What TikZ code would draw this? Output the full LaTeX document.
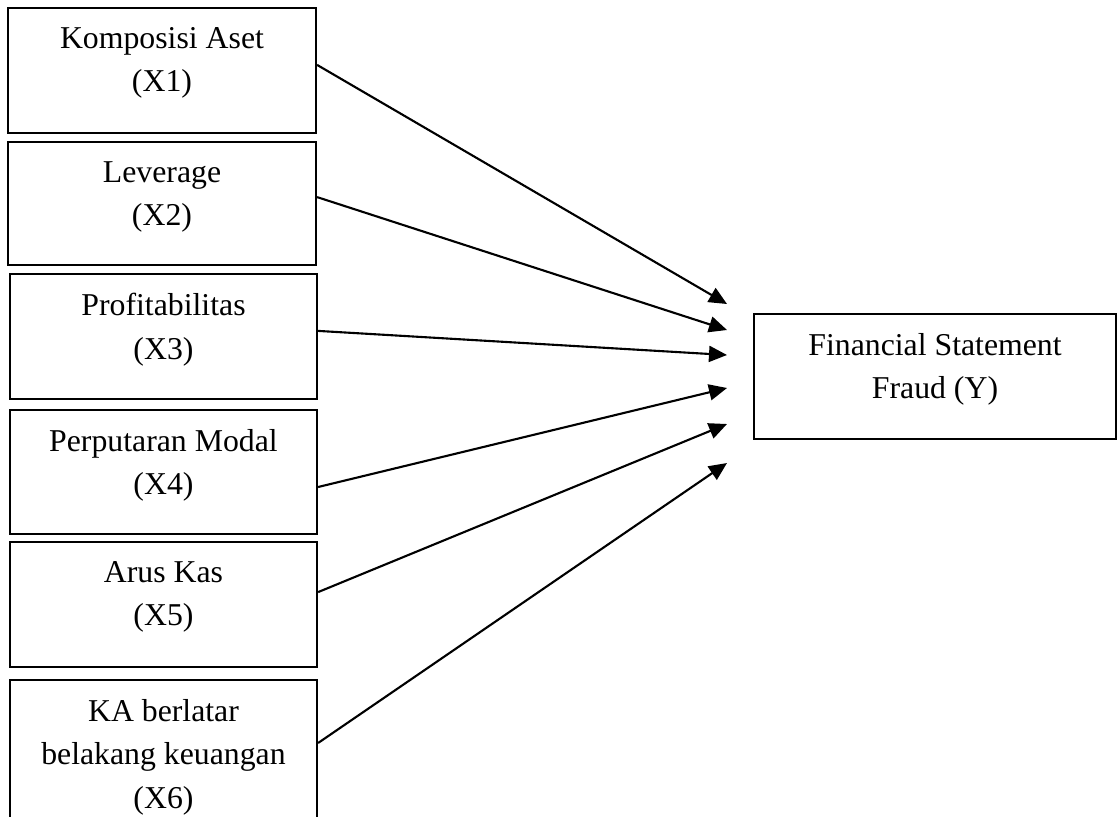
\documentclass[tikz,border=0pt]{standalone}
\usepackage{fontspec}
\setmainfont{Liberation Serif}
\usetikzlibrary{arrows.meta}
\usetikzlibrary{positioning}
\tikzset{
	varbox/.style = {rectangle, draw=black, line width=1.5pt, inner sep=0pt},% kotak variabel
	vartext/.style = {align=center, inner sep=0pt, text centered,
		font=\fontsize{22.6}{31}\selectfont},% teks variabel
	panah/.style = {-{Triangle[length=0.45cm,width=0.4cm]}, line width=1.5pt}% panah pengaruh
}

\begin{document}
\begin{tikzpicture}[x=0.025cm, y=-0.025cm]
	\useasboundingbox (0,0) rectangle (1117,816);
	% variabel X
	\node [varbox, minimum width=7.7cm, minimum height=3.125cm] (x1) at (162,70.5) {};
	\node [varbox, minimum width=7.7cm, minimum height=3.075cm] (x2) at (162,203.5) {};
	\node [varbox, minimum width=7.675cm, minimum height=3.125cm] (x3) at (163.5,336.5) {};
	\node [varbox, minimum width=7.675cm, minimum height=3.1cm] (x4) at (163.5,472) {};
	\node [varbox, minimum width=7.675cm, minimum height=3.125cm] (x5) at (163.5,604.5) {};
	\node [varbox, minimum width=7.675cm, minimum height=3.75cm] (x6) at (163.5,755) {};
	% variabel Y
	\node [varbox, minimum width=9.05cm, minimum height=3.125cm] (y) at (935,376.5) {};
	% teks
	\node [vartext, below=0.5cm of x1.north] (t1) {Komposisi Aset\\(X1)};
	\node [vartext, below=0.5cm of x2.north] (t2) {Leverage\\(X2)};
	\node [vartext, below=0.5cm of x3.north] (t3) {Profitabilitas\\(X3)};
	\node [vartext, below=0.5cm of x4.north] (t4) {Perputaran Modal\\(X4)};
	\node [vartext, below=0.5cm of x5.north] (t5) {Arus Kas\\(X5)};
	\node [vartext, below=0.5cm of x6.north] (t6) {KA berlatar\\belakang keuangan\\(X6)};
	\node [vartext, below=0.5cm of y.north] (ty) {Financial Statement\\Fraud (Y)};
	% ujung panah
	\coordinate (e1) at (727,304);
	\coordinate (e2) at (727,330);
	\coordinate (e3) at (727,355);
	\coordinate (e4) at (727,388);
	\coordinate (e5) at (727,424);
	\coordinate (e6) at (727,463);
	\draw [panah] ([yshift=0.14cm]x1.east) -- (e1);
	\draw [panah] ([yshift=0.16cm]x2.east) -- (e2);
	\draw [panah] ([yshift=0.14cm]x3.east) -- (e3);
	\draw [panah] ([yshift=-0.375cm]x4.east) -- (e4);
	\draw [panah] ([yshift=0.31cm]x5.east) -- (e5);
	\draw [panah] ([yshift=0.3cm]x6.east) -- (e6);
\end{tikzpicture}
\end{document}
